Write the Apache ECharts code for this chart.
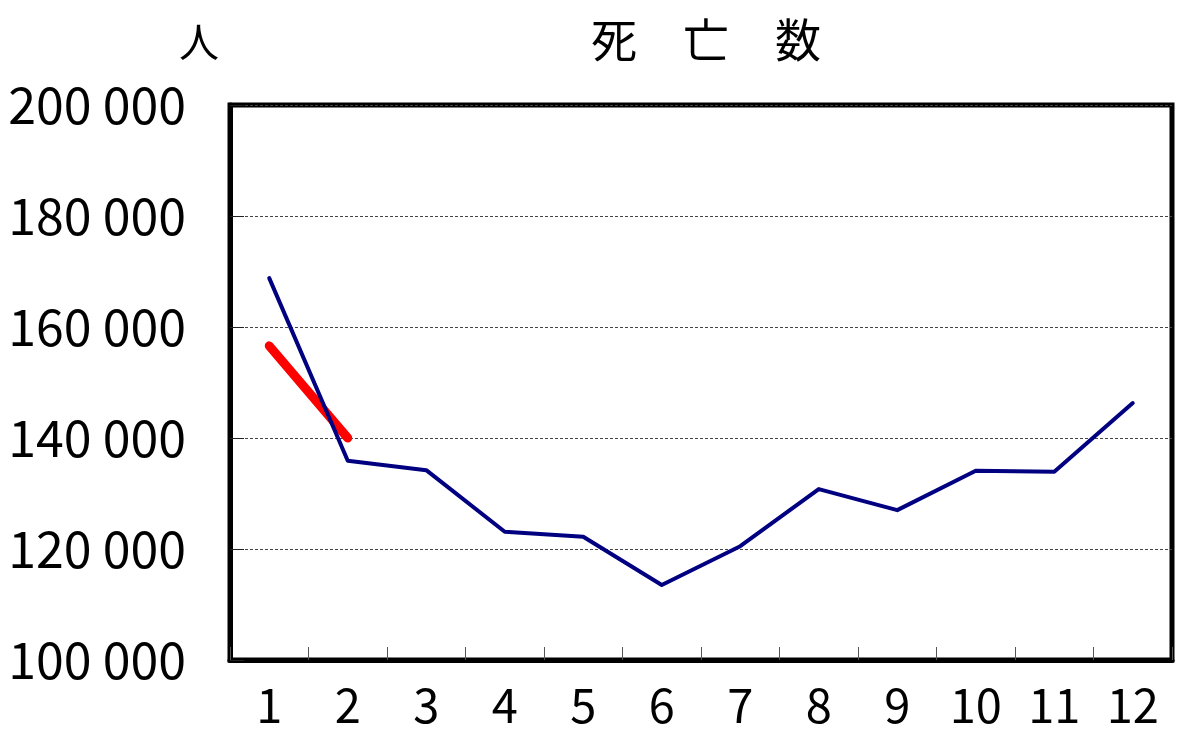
<!DOCTYPE html>
<html><head><meta charset="utf-8">
<script src="https://cdn.jsdelivr.net/npm/echarts@6/dist/echarts.min.js"></script>
<style>html,body{margin:0;padding:0;background:#fff}#c{width:1200px;height:741px}</style>
</head><body><div id="c"></div>
<script>
const months = ['1','2','3','4','5','6','7','8','9','10','11','12'];
const deathsNavy = [168800, 135900, 134200, 123100, 122200, 113500, 120500, 130800, 127000, 134100, 133900, 146300];
const deathsRed = [156600, 140000];
const yTicks = [100000, 120000, 140000, 160000, 180000, 200000];

const chart = echarts.init(document.getElementById('c'), null, {renderer:'canvas'});
const font = '"Noto Sans CJK JP", "Liberation Sans", sans-serif';
chart.setOption({
  animation:false,
  backgroundColor:'#fff',
  title:{text:'死　亡　数', left:701, top:12, textAlign:'center',
    textStyle:{fontFamily:font, fontSize:46, fontWeight:'normal', color:'#000'}},
  graphic:[{type:'text', left:179, top:22, style:{text:'人', font:'40px "Noto Sans CJK JP"', fill:'#000'}}],
  grid:{left:230, right:28, top:105, bottom:81, show:true, borderColor:'#000', borderWidth:5, backgroundColor:'transparent'},
  xAxis:{type:'category', data:months, boundaryGap:true,
    axisLine:{lineStyle:{color:'#000', width:5}},
    axisTick:{show:true, inside:true, length:13, interval:0, lineStyle:{color:'#555', width:1}},
    axisLabel:{fontFamily:font, fontSize:47, color:'#000', margin:22, interval:0}},
  yAxis:{type:'value', min:yTicks[0], max:yTicks[yTicks.length-1], interval:20000,
    axisLine:{show:true, lineStyle:{color:'#000', width:5}},
    axisTick:{show:true, inside:true, length:14, lineStyle:{color:'#222', width:1}},
    splitLine:{show:true, lineStyle:{type:[3,2], color:'#444', width:1}},
    axisLabel:{fontFamily:font, fontSize:50, color:'#000', margin:44,
      formatter:v=>String(v).replace(/\B(?=(\d{3})+(?!\d))/g,' ')}},
  series:[
    {type:'line', data:deathsNavy, symbol:'none', lineStyle:{color:'#000080', width:4, cap:'round', join:'round'}, z:3},
    {type:'line', data:deathsRed, symbol:'none', lineStyle:{color:'#ff0000', width:9, cap:'round'}, z:2}
  ]
});
</script></body></html>
